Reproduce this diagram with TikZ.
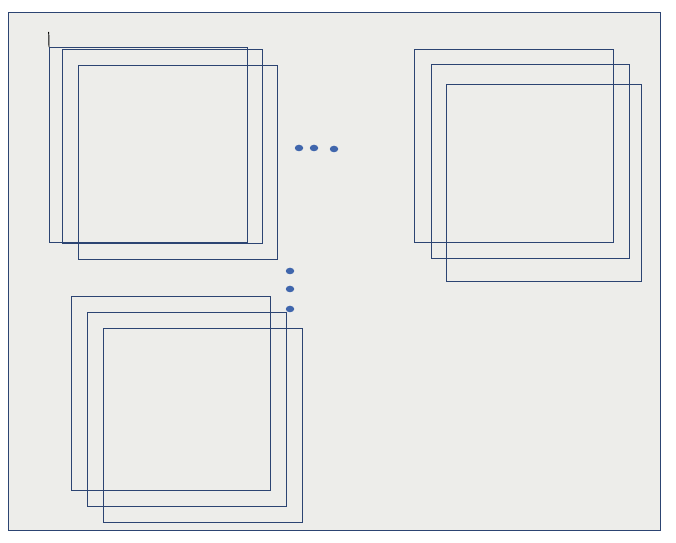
\documentclass[tikz,border=0pt]{standalone}
\usetikzlibrary{shapes.geometric}

\begin{document}
\begin{tikzpicture}[x=0.02cm,y=-0.02cm]
    \definecolor{frame_line}{RGB}{44,68,114}
    \definecolor{dot_fill}{RGB}{64,102,172}
    \definecolor{paper_bg}{RGB}{237,237,234}
    \tikzset{sq/.style={shape=rectangle,draw=frame_line,line width=0.55pt,inner sep=0pt,outer sep=0pt},
             dotmark/.style={shape=ellipse,fill=dot_fill,inner sep=0pt,minimum width=0.17cm,minimum height=0.13cm}}
    \useasboundingbox (0,0) rectangle (676,543);
    \node[shape=rectangle,draw=frame_line,fill=paper_bg,line width=0.5pt,inner sep=0pt,minimum width=13.04cm,minimum height=10.36cm] (frame) at (334,271) {};
    % top left group
    \node[sq,minimum width=3.96cm,minimum height=3.92cm] (tl1) at (148,145) {};
    \node[sq,minimum width=4.00cm,minimum height=3.90cm] (tl2) at (162,146.5) {};
    \node[sq,minimum width=3.98cm,minimum height=3.90cm] (tl3) at (177.5,162.5) {};
    \coordinate (tick) at (48.7,32);
    \draw[black,line width=0.55pt] (tick) -- (tl1.north west);
    % top right group
    \node[sq,minimum width=3.98cm,minimum height=3.88cm] (tr1) at (513.5,146) {};
    \node[sq,minimum width=3.96cm,minimum height=3.90cm] (tr2) at (530,161.5) {};
    \node[sq,minimum width=3.90cm,minimum height=3.96cm] (tr3) at (543.5,183) {};
    % bottom group
    \node[sq,minimum width=3.98cm,minimum height=3.90cm] (bl1) at (170.5,393.5) {};
    \node[sq,minimum width=3.98cm,minimum height=3.90cm] (bl2) at (186.5,409.5) {};
    \node[sq,minimum width=3.98cm,minimum height=3.90cm] (bl3) at (202.5,425.5) {};
    % dots
    \node[dotmark] (h1) at (299,148) {};
    \node[dotmark] (h2) at (314,148) {};
    \node[dotmark] (h3) at (334,149) {};
    \node[dotmark] (v1) at (290,271) {};
    \node[dotmark] (v2) at (290,289) {};
    \node[dotmark] (v3) at (290,309) {};
\end{tikzpicture}
\end{document}
